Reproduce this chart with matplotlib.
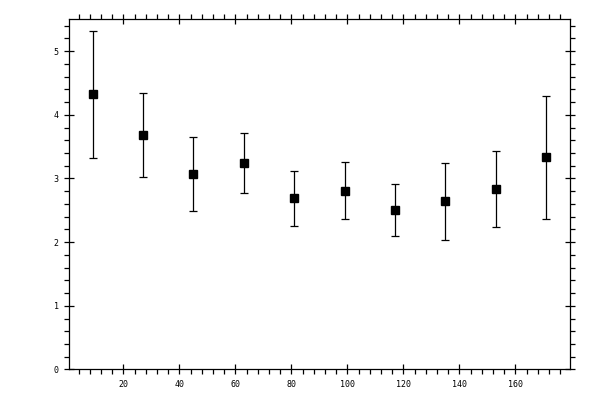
import matplotlib
matplotlib.use("Agg")
import matplotlib.pyplot as plt
from matplotlib.ticker import MultipleLocator

# bin centres and measured means with symmetric errors
x_centres = [9, 27, 45, 63, 81, 99, 117, 135, 153, 171]
y_means = [4.32, 3.68, 3.07, 3.24, 2.69, 2.81, 2.50, 2.64, 2.83, 3.33]
y_errs = [1.00, 0.66, 0.58, 0.47, 0.43, 0.45, 0.41, 0.60, 0.60, 0.96]

fig = plt.figure(figsize=(6, 4), dpi=100)
ax = fig.add_axes([0.1155, 0.0763, 0.8345, 0.8755])

ax.errorbar(x_centres, y_means, yerr=y_errs, fmt='s', color='black',
            markersize=6, elinewidth=0.9, capsize=3, capthick=0.9)

ax.set_xlim(0.7, 179.5)
ax.set_ylim(0, 5.5)

ax.xaxis.set_major_locator(MultipleLocator(20))
ax.xaxis.set_minor_locator(MultipleLocator(4))
ax.yaxis.set_major_locator(MultipleLocator(1))
ax.yaxis.set_minor_locator(MultipleLocator(0.2))

ax.tick_params(which='major', direction='inout', length=7, width=0.9,
               top=True, right=True, labelsize=6, pad=4)
ax.tick_params(which='minor', direction='out', length=3.5, width=0.9,
               top=True, right=True)
for lab in ax.get_xticklabels() + ax.get_yticklabels():
    lab.set_family('DejaVu Sans Mono')

for sp in ax.spines.values():
    sp.set_linewidth(0.9)

fig.savefig("out.png", dpi=100)
